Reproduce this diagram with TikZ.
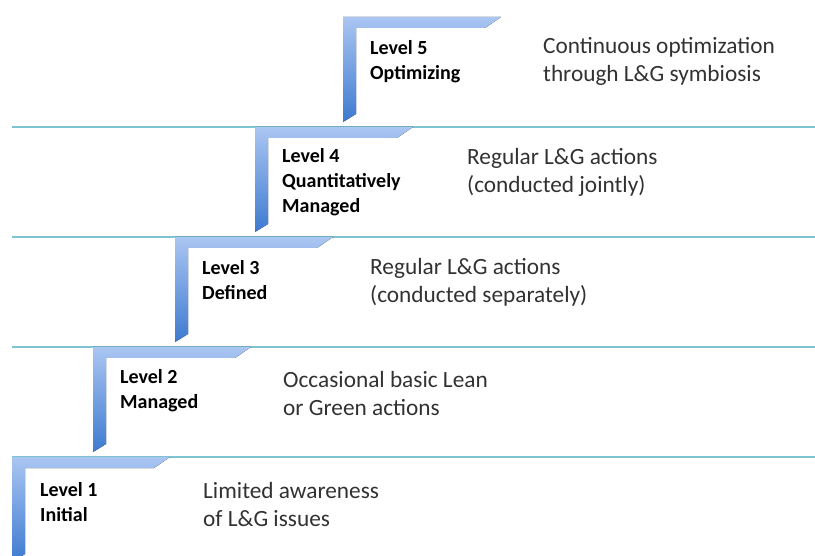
\documentclass[tikz,border=0pt]{standalone}
\usepackage{fontspec}
\setmainfont{Carlito}
\usepackage{tikz}

\definecolor{stepLight}{RGB}{170,198,242}
\definecolor{stepDark}{RGB}{62,122,208}
\definecolor{ruleLine}{RGB}{125,195,210}
\definecolor{descText}{RGB}{50,50,50}

\begin{document}
\begin{tikzpicture}[x=1pt,y=-1pt,
  lvl/.style={anchor=west,align=left,inner sep=0pt,
    font=\fontsize{20}{25}\selectfont\bfseries},
  desc/.style={anchor=west,align=left,inner sep=0pt,text=descText,
    font=\fontsize{23.3}{28}\selectfont},
  stair/.style={top color=stepLight,bottom color=stepDark}]
\useasboundingbox (0,0) rectangle (815,556);
\clip (0,0) rectangle (815,556);
% level boundaries
\foreach \y in {127,237,347,457}
\draw[ruleLine,line width=1.6pt] (12,\y) -- (815,\y);
% the stairs
\foreach \x/\y in {12/457,93/347,175/237,255/127,343/17}
\fill[stair] (\x,\y) -- ++(158,0) -- ++(-16,11) -- ++(-129,0)
  -- ++(0,86) -- ++(-13,8) -- cycle;
% level names
\node[lvl] (l1) at (40,502.5) {Level 1\\Initial};
\node[lvl] (l2) at (120,391) {Level 2\\Managed};
\node[lvl] (l3) at (202,280.5) {Level 3\\Defined};
\node[lvl] (l4) at (282,182) {Level 4\\Quantitatively\\Managed};
\node[lvl] (l5) at (370,61.5) {Level 5\\Optimizing};
% descriptions
\node[desc] (d1) at (203,504) {Limited awareness\\of L\&G issues};
\node[desc] (d2) at (283,393) {Occasional basic Lean\\or Green actions};
\node[desc] (d3) at (370,282) {Regular L\&G actions\\(conducted separately)};
\node[desc] (d4) at (467,172) {Regular L\&G actions\\(conducted jointly)};
\node[desc] (d5) at (543,61.5) {Continuous optimization\\through L\&G symbiosis};
\end{tikzpicture}
\end{document}
